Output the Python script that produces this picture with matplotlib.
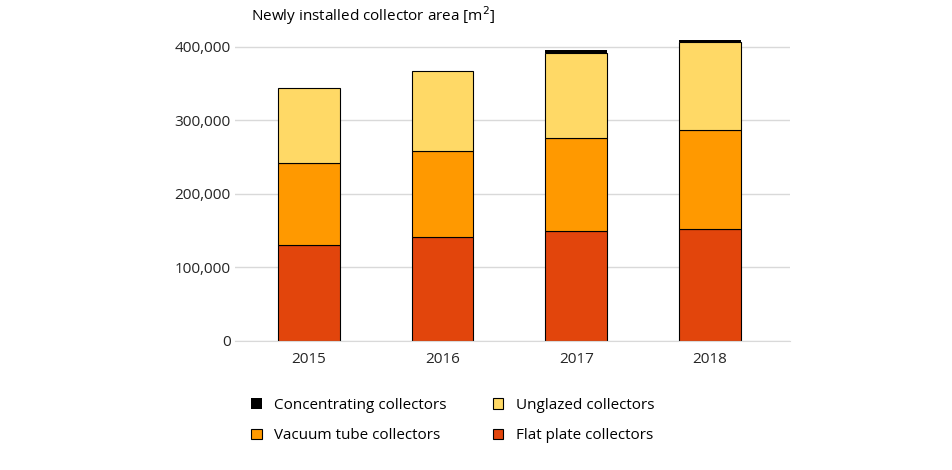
import matplotlib
matplotlib.use("Agg")
import matplotlib.pyplot as plt
from matplotlib.ticker import FuncFormatter

years = ["2015", "2016", "2017", "2018"]
flat_plate = [130000, 141000, 150000, 152000]
vacuum_tube = [112000, 117000, 126000, 135000]
unglazed = [102000, 109000, 116000, 120000]
concentrating = [0, 0, 3500, 2500]

plt.rcParams["font.family"] = "Open Sans"
fig = plt.figure(figsize=(9.53, 4.70), dpi=100)
ax = fig.add_axes([0.247, 0.2745, 0.582, 0.657])

x = range(len(years))
w = 0.46
kw = dict(width=w, edgecolor="black", linewidth=0.8)
b1 = ax.bar(x, flat_plate, color="#e2450c", label="Flat plate collectors", **kw)
bottom = flat_plate
b2 = ax.bar(x, vacuum_tube, bottom=bottom, color="#ff9900", label="Vacuum tube collectors", **kw)
bottom = [a + b for a, b in zip(bottom, vacuum_tube)]
b3 = ax.bar(x, unglazed, bottom=bottom, color="#ffd966", label="Unglazed collectors", **kw)
bottom = [a + b for a, b in zip(bottom, unglazed)]
b4 = ax.bar(x, concentrating, bottom=bottom, color="black", label="Concentrating collectors", width=w)

ax.set_ylim(0, 420000)
ax.set_xlim(-0.55, 3.6)
ax.set_yticks([0, 100000, 200000, 300000, 400000])
ax.yaxis.set_major_formatter(FuncFormatter(lambda v, p: f"{int(v):,}"))
ax.set_xticks(list(x))
ax.set_xticklabels(years)
ax.grid(axis="y", color="#d9d9d9", linewidth=1)
ax.set_axisbelow(True)
for s in ["top", "right", "left"]:
    ax.spines[s].set_visible(False)
ax.spines["bottom"].set_color("#d9d9d9")
ax.tick_params(length=0, labelsize=11, colors="#262626")
ax.tick_params(axis="x", pad=8)

fig.text(0.263, 0.955, "Newly installed collector area [m$^2$]", fontsize=11, color="black")

fig.legend([b4, b2, b3, b1],
           ["Concentrating collectors", "Vacuum tube collectors", "Unglazed collectors", "Flat plate collectors"],
           loc="center", bbox_to_anchor=(0.475, 0.105), ncol=2, frameon=False,
           fontsize=11, handlelength=0.7, handleheight=0.7, columnspacing=3.0, labelspacing=1.0)

fig.savefig("out.png", dpi=100)
